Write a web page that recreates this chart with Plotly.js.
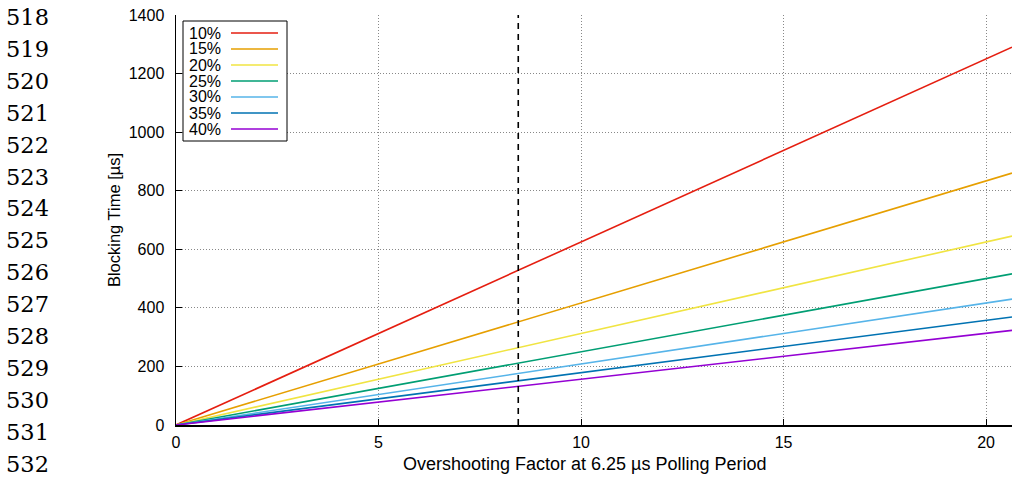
<!DOCTYPE html>
<html><head><meta charset="utf-8">
<script src="https://cdn.plot.ly/plotly-3.0.1.min.js"></script>
<style>html,body{margin:0;padding:0;background:#fff}#chart{width:1012px;height:479px}</style>
</head><body><div id="chart"></div>
<script>
// Data
const labels = ["10%", "15%", "20%", "25%", "30%", "35%", "40%"];
const colors = ["#e51e10", "#e69f00", "#f0e442", "#009e73", "#56b4e9", "#0072b2", "#9400d3"];
const xVals = [0, 20.64];
const s10 = [0, 1290];
const s15 = [0, 860];
const s20 = [0, 645];
const s25 = [0, 516];
const s30 = [0, 430];
const s35 = [0, 369];
const s40 = [0, 323];
const series = [s10, s15, s20, s25, s30, s35, s40];
const markerX = [8.45, 8.45];
const markerY = [0, 1400];
const lineNumbers = ["518","519","520","521","522","523","524","525","526","527","528","529","530","531","532"];
const xTitle = 'Overshooting Factor at 6.25 µs Polling Period';
const yTitle = 'Blocking Time [µs]';

const W = 1012, H = 479, L = 176, R = 0, T = 15, B = 54;
const pw = W - L - R, ph = H - T - B;
const px = v => (v - L) / pw;
const py = v => 1 - (v - T) / ph;
const SANS = 'Liberation Sans, Arial, sans-serif';

const traces = series.map((s, i) => ({
  x: xVals, y: s, type: 'scatter', mode: 'lines', name: labels[i],
  line: {color: colors[i], width: 1.6}, showlegend: false, hoverinfo: 'skip'
}));
traces.push({x: markerX, y: markerY, type: 'scatter', mode: 'lines',
  line: {color: '#000', width: 1.6, dash: '6px,5px'}, showlegend: false, hoverinfo: 'skip'});

const annotations = [];
const shapes = [];
// line numbers
lineNumbers.forEach((t, i) => {
  annotations.push({text: t, xref: 'paper', yref: 'paper', x: px(27), y: py(17 + i * 31.9),
    xanchor: 'center', yanchor: 'middle', showarrow: false,
    font: {family: 'DejaVu Serif', size: 22.5, color: '#000'}});
});
// x axis title (offset slightly left of plot centre, as in the reference)
annotations.push({text: xTitle, xref: 'paper', yref: 'paper', x: px(585), y: py(464),
  xanchor: 'center', yanchor: 'middle', showarrow: false,
  font: {family: SANS, size: 18, color: '#000'}});
// legend box
const lx0 = 183, lx1 = 287, ly0 = 21, ly1 = 141;
shapes.push({type: 'rect', xref: 'paper', yref: 'paper', x0: px(lx0), x1: px(lx1), y0: py(ly0), y1: py(ly1),
  line: {color: '#000', width: 1}, fillcolor: '#fff', layer: 'above'});
labels.forEach((t, i) => {
  const yy = 33 + i * 16;
  annotations.push({text: t, xref: 'paper', yref: 'paper', x: px(223), y: py(yy),
    xanchor: 'right', yanchor: 'middle', showarrow: false,
    font: {family: SANS, size: 16, color: '#000'}});
  shapes.push({type: 'line', xref: 'paper', yref: 'paper', x0: px(231), x1: px(278), y0: py(yy), y1: py(yy),
    line: {color: colors[i], width: 1.6}, layer: 'above'});
});

const axFont = {family: SANS, size: 16, color: '#000'};
const layout = {
  width: W, height: H,
  margin: {l: L, r: R, t: T, b: B, pad: 0},
  paper_bgcolor: '#fff', plot_bgcolor: '#fff',
  showlegend: false,
  xaxis: {
    range: [0, 20.64], tickvals: [0, 5, 10, 15, 20], ticks: 'inside', ticklen: 6, tickcolor: '#000',
    showline: true, linecolor: '#000', linewidth: 2, zeroline: false,
    showgrid: true, gridcolor: '#888', griddash: '1px,2px', gridwidth: 1,
    tickfont: axFont, ticklabelstandoff: 2
  },
  yaxis: {
    range: [0, 1400], tickvals: [0, 200, 400, 600, 800, 1000, 1200, 1400], ticks: 'inside', ticklen: 6, tickcolor: '#000',
    showline: true, linecolor: '#000', linewidth: 1.5, zeroline: false,
    showgrid: true, gridcolor: '#888', griddash: '1px,2px', gridwidth: 1,
    tickfont: axFont, ticklabelstandoff: 7,
    title: {text: yTitle, font: {family: SANS, size: 16.5, color: '#000'}, standoff: 4}
  },
  annotations: annotations,
  shapes: shapes
};
Plotly.newPlot('chart', traces, layout, {staticPlot: true, displayModeBar: false});
</script>
</body></html>
